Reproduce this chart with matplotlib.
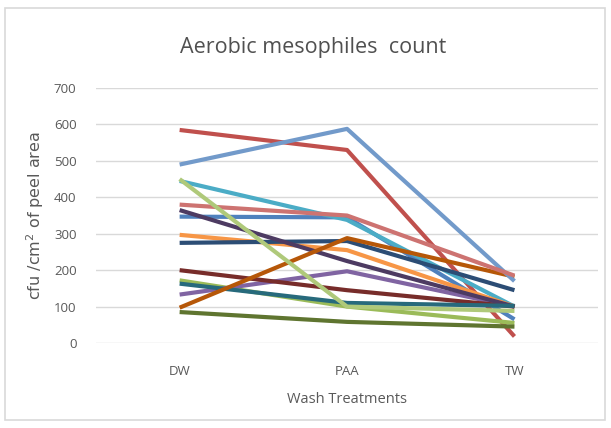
import matplotlib
matplotlib.use('Agg')
import matplotlib.pyplot as plt
from matplotlib.patches import Rectangle

# Категории обработки
treatments = ['DW', 'PAA', 'TW']

# Значения серий (cfu/cm2)
blue = [347, 345, 65]
red = [585, 530, 18]
green = [172, 100, 55]
purple = [133, 197, 100]
aqua = [445, 338, 100]
orange = [297, 255, 100]
dark_blue = [275, 280, 145]
dark_red = [200, 145, 100]
dark_green = [85, 58, 45]
dark_purple = [365, 225, 100]
dark_aqua = [163, 110, 102]
dark_orange = [97, 288, 182]
light_blue = [490, 588, 170]
light_red = [380, 350, 185]
light_green = [450, 100, 88]

series = [
    (blue, '#4F81BD'),
    (red, '#C0504D'),
    (green, '#9BBB59'),
    (purple, '#8064A2'),
    (aqua, '#4BACC6'),
    (orange, '#F79646'),
    (dark_blue, '#2C4D75'),
    (dark_red, '#772C2A'),
    (dark_green, '#5F7530'),
    (dark_purple, '#4D3B62'),
    (dark_aqua, '#276A7C'),
    (dark_orange, '#B65708'),
    (light_blue, '#729ACA'),
    (light_red, '#CD7371'),
    (light_green, '#AFC97A'),
]

fig = plt.figure(figsize=(6.11, 4.28), dpi=100)
fig.patches.append(Rectangle((5 / 611, 8 / 428), 600 / 611, 412 / 428,
                             transform=fig.transFigure, fill=False,
                             edgecolor='#D9D9D9', linewidth=1.2))

ax = fig.add_axes([0.157, 0.1986, 0.822, 0.5956])
x = range(len(treatments))
for vals, col in series:
    ax.plot(x, vals, color=col, linewidth=3.0, solid_capstyle='butt')

ax.set_xlim(-0.5, 2.5)
ax.set_ylim(0, 700)
ax.set_yticks(range(0, 701, 100))
ax.set_xticks(list(x))
ax.set_xticklabels(treatments)
ax.grid(axis='y', color='#D9D9D9', linewidth=1)
ax.set_axisbelow(True)
for s in ax.spines.values():
    s.set_visible(False)
ax.tick_params(length=0, colors='#595959', labelsize=9.5)
ax.tick_params(axis='x', pad=16)
ax.tick_params(axis='y', pad=14)
for lab in ax.get_xticklabels() + ax.get_yticklabels():
    lab.set_family('Open Sans')

ax.set_xlabel('Wash Treatments', color='#595959', fontsize=10.5,
              family='Open Sans', labelpad=10)
ax.set_ylabel('cfu /cm$^2$ of peel area', color='#595959', fontsize=11.5,
              labelpad=6)
fig.text(0.512, 0.889, 'Aerobic mesophiles  count', ha='center', va='center',
         fontsize=15.5, color='#505050', family='Open Sans')

plt.savefig('out.png', dpi=100)
